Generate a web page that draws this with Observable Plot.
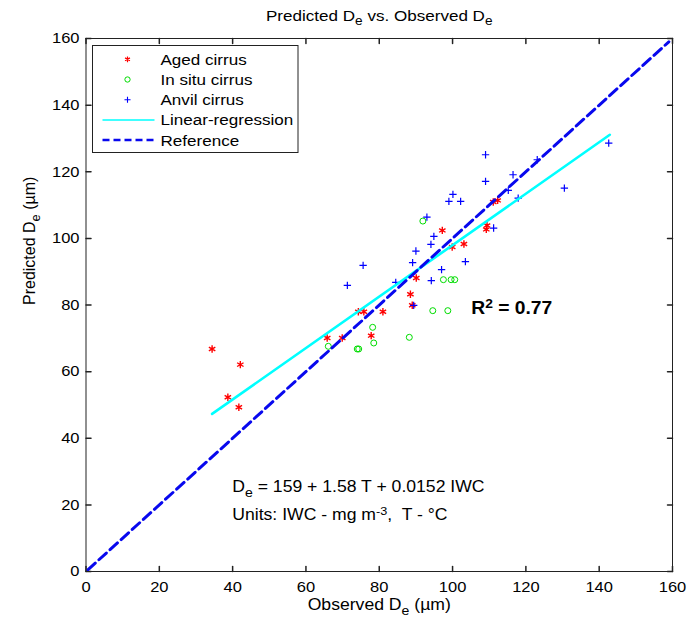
<!DOCTYPE html>
<html><head><meta charset="utf-8">
<script src="https://cdn.jsdelivr.net/npm/d3@7"></script>
<script src="https://cdn.jsdelivr.net/npm/@observablehq/plot@0.6"></script>
<style>
body{margin:0;background:#fff;}
#chart svg{display:block;}
</style></head><body><div id="chart"></div>
<script>
// ---- data ----
const agedX = [34.4, 38.7, 42.1, 41.7, 65.8, 69.9, 74.3, 75.8, 81.0, 77.8, 88.5, 89.0, 90.1, 97.2, 99.9, 103.1, 109.4, 109.2, 111.1, 112.3];
const agedY = [66.8, 52.3, 62.1, 49.3, 70.1, 70.1, 78.0, 78.0, 78.0, 70.8, 83.2, 79.9, 88.1, 102.4, 97.4, 98.3, 103.9, 102.7, 110.9, 111.4];
const insituX = [66.1, 74.0, 74.4, 78.2, 78.5, 88.2, 94.6, 98.7, 91.9, 97.5, 99.6, 100.6];
const insituY = [67.6, 66.8, 66.8, 73.3, 68.6, 70.3, 78.3, 78.3, 105.2, 87.6, 87.6, 87.6];
const anvilX = [71.3, 75.6, 84.5, 89.1, 90.0, 89.4, 93.0, 94.9, 94.1, 94.2, 97.0, 99.0, 100.1, 102.2, 103.5, 109.0, 109.0, 111.2, 115.2, 116.5, 117.9, 123.1, 130.5, 142.6];
const anvilY = [85.9, 91.9, 86.8, 92.7, 96.2, 79.9, 106.4, 100.6, 98.2, 87.3, 90.6, 111.1, 113.2, 111.1, 93.0, 125.1, 117.1, 103.1, 114.4, 119.1, 112.1, 123.6, 115.1, 128.6];
const regX = [34.4, 142.9];
const regY = [47.3, 131.1];
const refX = [0.5, 159];
const refY = [0.5, 159];
const xTicks = [0, 20, 40, 60, 80, 100, 120, 140, 160];
const yTicks = [0, 20, 40, 60, 80, 100, 120, 140, 160];
const legendLabels = ["Aged cirrus", "In situ cirrus", "Anvil cirrus", "Linear-regression", "Reference"];
const titleText = "Predicted D_{e} vs. Observed D_{e}";
const xLabel = "Observed D_{e} (\u00b5m)";
const yLabel = "Predicted D_{e} (\u00b5m)";
const r2Text = "R^{2} = 0.77";
const eqText = "D_{e} = 159 + 1.58 T + 0.0152 IWC";
const unitsText = "Units: IWC - mg m^{-3},  T - \u00b0C";

// ---- styles ----
const C = {aged: "#ff0000", insitu: "#00dd00", anvil: "#0000ff", reg: "#00ffff", ref: "#0808ee", frame: "#222"};
const FONT = "'Liberation Sans', Arial, sans-serif";
const STRETCH = 1.1; // horizontal stretch of text seen in the reference
const toRows = (xs, ys) => xs.map((x, i) => ({x, y: ys[i]}));
const tickLen = 5;
const tickShape = {draw(ctx, l) { ctx.moveTo(0, 0); ctx.lineTo(0, -l); }};

const plot = Plot.plot({
  width: 687, height: 619,
  marginLeft: 85.5, marginRight: 15, marginTop: 38, marginBottom: 48,
  style: {fontFamily: FONT, fontSize: "15px", color: "#000", background: "#fff"},
  x: {domain: [0, 160]},
  y: {domain: [0, 160]},
  marks: [
    Plot.axisX(xTicks, {tickSize: 0, tickPadding: 9.5, label: null, fontSize: 15}),
    Plot.axisY(yTicks, {tickSize: 0, tickPadding: 6.5, label: null, fontSize: 15}),
    Plot.vector(xTicks, {x: d => d, frameAnchor: "bottom", length: tickLen, anchor: "start", rotate: 0, shape: tickShape, stroke: C.frame}),
    Plot.vector(xTicks, {x: d => d, frameAnchor: "top", length: tickLen, anchor: "start", rotate: 180, shape: tickShape, stroke: C.frame}),
    Plot.vector(yTicks, {y: d => d, frameAnchor: "left", length: tickLen, anchor: "start", rotate: 90, shape: tickShape, stroke: C.frame}),
    Plot.vector(yTicks, {y: d => d, frameAnchor: "right", length: tickLen, anchor: "start", rotate: -90, shape: tickShape, stroke: C.frame}),
    Plot.dot(toRows(agedX, agedY), {x: "x", y: "y", symbol: "asterisk", r: 3.5, stroke: C.aged, strokeWidth: 1.4}),
    Plot.dot(toRows(insituX, insituY), {x: "x", y: "y", symbol: "circle", r: 3, stroke: C.insitu, strokeWidth: 1}),
    Plot.dot(toRows(anvilX, anvilY), {x: "x", y: "y", symbol: "plus", r: 2.5, stroke: C.anvil, strokeWidth: 1.2}),
    Plot.line(toRows(regX, regY), {x: "x", y: "y", stroke: C.reg, strokeWidth: 2.6}),
    Plot.line(toRows(refX, refY), {x: "x", y: "y", stroke: C.ref, strokeWidth: 3, strokeDasharray: "10,5"}),
    Plot.frame({stroke: C.frame}),
    Plot.text([titleText], {text: d => d, frameAnchor: "top", dy: -18, lineAnchor: "bottom", fontSize: 15.5}),
    Plot.text([xLabel], {text: d => d, frameAnchor: "bottom", dy: 38, lineAnchor: "bottom", fontSize: 16}),
    Plot.text([yLabel], {text: d => d, frameAnchor: "left", dx: -51.5, rotate: -90, lineAnchor: "bottom", fontSize: 16}),
    Plot.text([r2Text], {text: d => d, x: 105.1, y: 77.4, textAnchor: "start", lineAnchor: "bottom", fontSize: 17.5, fontWeight: "bold"}),
    Plot.text([eqText], {text: d => d, x: 39.9, y: 24.0, textAnchor: "start", lineAnchor: "bottom", fontSize: 16}),
    Plot.text([unitsText], {text: d => d, x: 39.9, y: 15.4, textAnchor: "start", lineAnchor: "bottom", fontSize: 16})
  ]
});

// ---- rich text (sub/superscripts) ----
const NS = "http://www.w3.org/2000/svg";
d3.select(plot).selectAll("text").each(function() {
  const s = this.textContent;
  if (!/[_^]\{/.test(s)) return;
  this.textContent = "";
  const re = /([_^])\{([^}]*)\}/g;
  let last = 0, m;
  const add = (txt, kind) => {
    if (!txt) return;
    const t = document.createElementNS(NS, "tspan");
    t.textContent = txt;
    if (kind === "_") { t.setAttribute("baseline-shift", "-35%"); t.setAttribute("font-size", "80%"); }
    if (kind === "^") { t.setAttribute("baseline-shift", "45%"); t.setAttribute("font-size", "72%"); }
    this.appendChild(t);
  };
  while ((m = re.exec(s))) { add(s.slice(last, m.index)); add(m[2], m[1]); last = re.lastIndex; }
  add(s.slice(last));
});
d3.select(plot).selectAll("text").style("white-space", "pre");

// ---- legend ----
const svg = d3.select(plot);
const L = 85.5 + 7, T = 38 + 7.5, W = 205.5, H = 107, rowH = 20.2, row0 = 13.8;
const g = svg.append("g").attr("font-family", FONT).attr("font-size", 15.5).attr("text-anchor", "start");
g.append("rect").attr("x", L).attr("y", T).attr("width", W).attr("height", H).attr("fill", "#fff").attr("stroke", C.frame);
const symbols = [
  {sym: d3.symbolAsterisk, size: 22, stroke: C.aged, sw: 1.2},
  {sym: d3.symbolCircle, size: 22, stroke: C.insitu, sw: 1},
  {sym: d3.symbolPlus, size: 14, stroke: C.anvil, sw: 1.1},
  {line: true, stroke: C.reg, sw: 1.5},
  {line: true, stroke: C.ref, sw: 2.5, dash: "7,4"}
];
legendLabels.forEach((lab, i) => {
  const cy = T + row0 + i * rowH;
  const s = symbols[i];
  if (s.line) {
    g.append("line").attr("x1", L + 10).attr("x2", L + 62).attr("y1", cy).attr("y2", cy)
      .attr("stroke", s.stroke).attr("stroke-width", s.sw).attr("stroke-dasharray", s.dash || null);
  } else {
    g.append("path").attr("d", d3.symbol(s.sym, s.size)()).attr("transform", `translate(${L + 35},${cy})`)
      .attr("fill", "none").attr("stroke", s.stroke).attr("stroke-width", s.sw);
  }
  g.append("text").attr("x", L + 68).attr("y", cy).attr("dy", "0.35em").text(lab);
});

document.getElementById("chart").appendChild(plot);

// ---- widen horizontal text like the reference (not rotated text) ----
d3.select(plot).selectAll("text").each(function() {
  const tr = (this.getAttribute("transform") || "") + (this.parentNode.getAttribute && this.parentNode.getAttribute("transform") || "");
  if (/rotate/.test(tr)) return;
  const w = this.getComputedTextLength();
  if (w > 0) {
    this.setAttribute("textLength", (w * STRETCH).toFixed(2));
    this.setAttribute("lengthAdjust", "spacingAndGlyphs");
  }
});
</script></body></html>
